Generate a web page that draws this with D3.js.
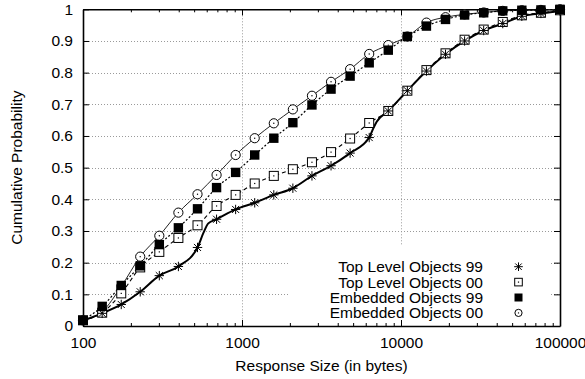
<!DOCTYPE html>
<html>
<head>
<meta charset="utf-8">
<script src="https://cdn.jsdelivr.net/npm/d3@7"></script>
<style>
  html, body { margin: 0; padding: 0; background: #fff; }
  svg { display: block; font-family: "Liberation Sans", Arial, Helvetica, sans-serif; }
</style>
</head>
<body>
<svg id="chart" width="585" height="379"></svg>
<script>
// ---- data ----
const sizes = [100, 132, 174, 229, 302, 398, 525, 692, 912, 1202, 1585, 2089, 2754, 3631, 4786, 6310, 8318, 10965, 14454, 19055, 25119, 33113, 43652, 57544, 75858, 100000];
const topLevel99 = [0.018, 0.040, 0.068, 0.108, 0.159, 0.188, 0.248, 0.337, 0.368, 0.389, 0.414, 0.435, 0.474, 0.506, 0.546, 0.595, 0.679, 0.743, 0.805, 0.858, 0.900, 0.933, 0.955, 0.978, 0.987, 0.995];
const topLevel00 = [0.018, 0.042, 0.103, 0.185, 0.234, 0.278, 0.318, 0.379, 0.414, 0.450, 0.474, 0.495, 0.517, 0.549, 0.592, 0.641, 0.679, 0.743, 0.808, 0.861, 0.904, 0.936, 0.960, 0.981, 0.989, 0.997];
const embedded99 = [0.018, 0.062, 0.128, 0.190, 0.257, 0.310, 0.370, 0.437, 0.485, 0.540, 0.593, 0.642, 0.698, 0.748, 0.789, 0.831, 0.871, 0.914, 0.947, 0.968, 0.982, 0.989, 0.995, 0.997, 0.998, 1.000];
const embedded00 = [0.018, 0.045, 0.125, 0.219, 0.285, 0.358, 0.416, 0.477, 0.540, 0.593, 0.640, 0.684, 0.727, 0.771, 0.811, 0.859, 0.887, 0.914, 0.958, 0.975, 0.984, 0.990, 0.995, 0.997, 0.998, 1.000];
// extra points on the Top Level 99 curve (steps between markers)
const topLevel99StepSizes = [571, 614, 6695, 7031];
const topLevel99StepValues = [0.293, 0.324, 0.624, 0.645];

const seriesNames = ["Top Level Objects 99", "Top Level Objects 00", "Embedded Objects 99", "Embedded Objects 00"];
const xTickValues = [100, 1000, 10000, 100000];
const xTickLabels = ["100", "1000", "10000", "100000"];
const yTickValues = [0, 0.1, 0.2, 0.3, 0.4, 0.5, 0.6, 0.7, 0.8, 0.9, 1];
const yTickLabels = ["0", "0.1", "0.2", "0.3", "0.4", "0.5", "0.6", "0.7", "0.8", "0.9", "1"];
const xLabel = "Response Size (in bytes)";
const yLabel = "Cumulative Probability";

// ---- layout ----
const svg = d3.select("#chart");
const L = 83, R = 560, T = 9.3, B = 326;
const x = d3.scaleLog().domain([100, 100000]).range([L, R]);
const y = d3.scaleLinear().domain([0, 1]).range([B, T]);
const FS = 15.5;

// grid
const gridG = svg.append("g").attr("stroke", "#9a9a9a").attr("stroke-width", 1).attr("stroke-dasharray", "1,2");
yTickValues.filter(v => v > 0 && v < 1).forEach(v => {
  gridG.append("line").attr("x1", L).attr("x2", R).attr("y1", Math.round(y(v)) + 0.5).attr("y2", Math.round(y(v)) + 0.5);
});
[1000, 10000].forEach(v => {
  gridG.append("line").attr("x1", Math.round(x(v)) + 0.5).attr("x2", Math.round(x(v)) + 0.5).attr("y1", T).attr("y2", B);
});

// legend background (blanks the grid)
svg.append("rect").attr("x", 290).attr("y", 245).attr("width", 260).attr("height", 80).attr("fill", "#fff");

// axes
const minorX = [];
[100, 1000, 10000].forEach(d => { for (let k = 2; k <= 9; k++) minorX.push(d * k); });

svg.append("g").attr("transform", `translate(0,${B})`)
  .call(d3.axisBottom(x).tickValues(xTickValues).tickSizeInner(-6).tickSizeOuter(0).tickPadding(11)
    .tickFormat((d, i) => xTickLabels[i]));
svg.append("g").attr("transform", `translate(0,${B})`)
  .call(d3.axisBottom(x).tickValues(minorX).tickSizeInner(-3).tickSizeOuter(0).tickFormat(""))
  .call(g => g.select(".domain").remove());
svg.append("g").attr("transform", `translate(0,${T})`)
  .call(d3.axisTop(x).tickValues(xTickValues).tickSizeInner(-6).tickSizeOuter(0).tickFormat(""));
svg.append("g").attr("transform", `translate(0,${T})`)
  .call(d3.axisTop(x).tickValues(minorX).tickSizeInner(-3).tickSizeOuter(0).tickFormat(""))
  .call(g => g.select(".domain").remove());
svg.append("g").attr("transform", `translate(${L},0)`)
  .call(d3.axisLeft(y).tickValues(yTickValues).tickSizeInner(-6).tickSizeOuter(0).tickPadding(10)
    .tickFormat((d, i) => yTickLabels[i]));
svg.append("g").attr("transform", `translate(${R},0)`)
  .call(d3.axisRight(y).tickValues(yTickValues).tickSizeInner(-6).tickSizeOuter(0).tickFormat(""));

svg.selectAll(".domain").attr("stroke", "#000").attr("stroke-width", 1.6);
svg.selectAll(".tick line").attr("stroke", "#000").attr("stroke-width", 1);
svg.selectAll(".tick text").attr("font-size", FS).attr("font-family", "Liberation Sans, Arial, sans-serif").attr("fill", "#000");

// axis titles
svg.append("text").attr("x", (L + R) / 2).attr("y", 371).attr("text-anchor", "middle")
  .attr("font-size", FS).text(xLabel);
svg.append("text").attr("transform", `translate(22,${(T + B) / 2}) rotate(-90)`).attr("text-anchor", "middle")
  .attr("font-size", FS).text(yLabel);

// ---- series ----
function pts(vals) { return sizes.map((s, i) => [s, vals[i]]); }
const starLinePts = pts(topLevel99).concat(topLevel99StepSizes.map((s, i) => [s, topLevel99StepValues[i]]))
  .sort((a, b) => a[0] - b[0]);

const line = d3.line().x(d => x(d[0])).y(d => y(d[1])).curve(d3.curveMonotoneX);
const plotG = svg.append("g").attr("fill", "none");

plotG.append("path").attr("d", line(pts(embedded00))).attr("stroke", "#222").attr("stroke-width", 1);
plotG.append("path").attr("d", line(pts(embedded99))).attr("stroke", "#000").attr("stroke-width", 1.2).attr("stroke-dasharray", "2,2");
plotG.append("path").attr("d", line(pts(topLevel00))).attr("stroke", "#000").attr("stroke-width", 1.1).attr("stroke-dasharray", "4,3");
plotG.append("path").attr("d", line(starLinePts)).attr("stroke", "#000").attr("stroke-width", 2);

// marker drawers
function star(g, cx, cy, r) {
  const p = `M${cx - r},${cy}L${cx + r},${cy}M${cx},${cy - r}L${cx},${cy + r}` +
    `M${cx - r * 0.75},${cy - r * 0.75}L${cx + r * 0.75},${cy + r * 0.75}M${cx - r * 0.75},${cy + r * 0.75}L${cx + r * 0.75},${cy - r * 0.75}`;
  g.append("path").attr("d", p).attr("stroke", "#000").attr("stroke-width", 1).attr("fill", "none");
}
function openSquare(g, cx, cy, r) {
  g.append("rect").attr("x", cx - r).attr("y", cy - r).attr("width", 2 * r).attr("height", 2 * r)
    .attr("fill", "#fff").attr("stroke", "#000").attr("stroke-width", 1);
  g.append("rect").attr("x", cx - 0.6).attr("y", cy - 0.6).attr("width", 1.2).attr("height", 1.2).attr("fill", "#000");
}
function filledSquare(g, cx, cy, r) {
  g.append("rect").attr("x", cx - r).attr("y", cy - r).attr("width", 2 * r).attr("height", 2 * r)
    .attr("fill", "#000").attr("stroke", "none");
}
function openCircle(g, cx, cy, r) {
  g.append("circle").attr("cx", cx).attr("cy", cy).attr("r", r)
    .attr("fill", "#fff").attr("stroke", "#000").attr("stroke-width", 1);
  g.append("circle").attr("cx", cx).attr("cy", cy).attr("r", 0.7).attr("fill", "#000");
}

const mk = svg.append("g");
const series = [
  { vals: embedded00, draw: openCircle, r: 4.6 },
  { vals: topLevel00, draw: openSquare, r: 4.5 },
  { vals: embedded99, draw: filledSquare, r: 4.7 },
  { vals: topLevel99, draw: star, r: 4.7 }
];
series.forEach(s => {
  sizes.forEach((sz, i) => s.draw(mk, x(sz), y(s.vals[i]), s.r));
});

// ---- legend ----
const legG = svg.append("g");
const legendDraw = [star, openSquare, filledSquare, openCircle];
const legendR = [4.3, 3.8, 4, 3.6];
seriesNames.forEach((name, i) => {
  const cy = 266.7 + i * 15.4;
  legG.append("text").attr("x", 483).attr("y", cy).attr("dy", "0.36em").attr("text-anchor", "end")
    .attr("font-size", FS).text(name);
  legendDraw[i](legG, 518.5, cy, legendR[i]);
});
</script>
</body>
</html>
